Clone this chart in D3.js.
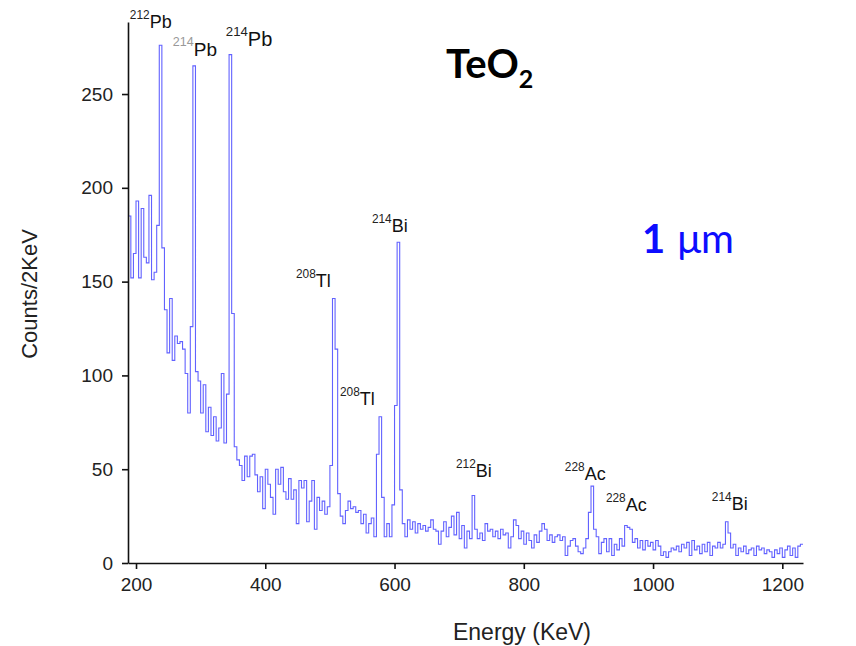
<!DOCTYPE html>
<html>
<head>
<meta charset="utf-8">
<script src="https://cdn.jsdelivr.net/npm/d3@7"></script>
<style>
  html, body { margin: 0; padding: 0; background: #fff; }
  svg { display: block; }
  .tick text { font-family: "Liberation Sans", Arial, sans-serif; font-size: 19px; fill: #222; }
  .tick line, .domain { stroke: #111; stroke-width: 1.6; }
</style>
</head>
<body>
<svg id="chart" width="856" height="646"></svg>
<script>
// Gamma spectrum of a TeO2 sample: counts per bin, bins start at 188 keV.
const binStartKeV = 188;
const binWidthKeV = 4;
const counts = [
  185, 152, 165, 193, 152, 189, 163, 160, 196, 151,
  155, 180, 276, 168, 135, 112, 141, 108, 121, 117,
  118, 114, 101, 80, 126, 265, 102, 97, 80, 95,
  70, 83, 68, 78, 65, 72, 101, 64, 90, 271,
  133, 62, 55, 52, 44, 57, 46, 57, 58, 47,
  38, 46, 29, 50, 42, 35, 26, 50, 42, 51,
  38, 34, 45, 34, 39, 21, 44, 40, 44, 22,
  33, 44, 18, 35, 28, 33, 26, 30, 52, 141,
  114, 37, 25, 21, 28, 33, 29, 30, 27, 28,
  21, 26, 16, 21, 24, 14, 58, 78, 35, 14,
  21, 14, 31, 84, 171, 39, 21, 14, 23, 18,
  22, 16, 21, 18, 20, 17, 19, 23, 18, 17,
  10, 17, 22, 14, 19, 25, 15, 27, 13, 20,
  8, 17, 13, 36, 18, 13, 16, 12, 21, 17,
  18, 14, 17, 13, 18, 15, 16, 8, 14, 23,
  20, 13, 17, 10, 16, 12, 8, 15, 11, 17,
  21, 18, 12, 15, 11, 14, 15, 12, 14, 4,
  9, 12, 13, 9, 6, 5, 8, 13, 27, 41,
  18, 14, 5, 11, 13, 6, 13, 4, 10, 7,
  13, 9, 20, 19, 18, 11, 13, 8, 12, 7,
  12, 9, 11, 7, 12, 9, 4, 6, 3, 6,
  8, 7, 9, 6, 10, 8, 11, 4, 12, 7,
  9, 5, 10, 6, 11, 4, 9, 8, 11, 8,
  10, 22, 16, 8, 10, 4, 8, 6, 9, 5,
  7, 8, 4, 9, 7, 8, 5, 7, 6, 3,
  7, 5, 8, 3, 7, 9, 4, 8, 3, 9,
  10
];

// Axis ticks
const xTicks = [200, 400, 600, 800, 1000, 1200];
const yTicks = [0, 50, 100, 150, 200, 250];
const xDomain = [187.6, 1232];
const yDomain = [0, 288.4];

// Peak annotations: mass number, element, label anchor (keV, counts)
const peakMass    = ["212", "214", "214", "208", "208", "214", "212", "228", "228", "214"];
const peakElement = ["Pb",  "Pb",  "Pb",  "Tl",  "Tl",  "Bi",  "Bi",  "Ac",  "Ac",  "Bi"];
const peakLabelE  = [190.5, 257,   339,   447.5, 515.5, 565,   695,   863.5, 927,   1091];
const peakLabelC  = [285,   270.5, 275.5, 147,   84,    176.3, 45.8,  44.2,  27.7,  28.2];
const peakLabelSz = [18,    19,    20,    18,    18,    18,    18,    18,    18,    18];
const peakMassCol = ["#222", "#999", "#222", "#222", "#222", "#222", "#222", "#222", "#222", "#222"];

const svg = d3.select("#chart");
const x = d3.scaleLinear().domain(xDomain).range([128, 803]);
const y = d3.scaleLinear().domain(yDomain).range([563, 22]);

// Spectrum as a step histogram
const points = counts.map((c, i) => [binStartKeV + i * binWidthKeV, c]);
points.push([binStartKeV + counts.length * binWidthKeV, counts[counts.length - 1]]);
const line = d3.line()
  .x(d => x(d[0]))
  .y(d => y(d[1]))
  .curve(d3.curveStepAfter);

svg.append("path")
  .datum(points)
  .attr("d", line)
  .attr("fill", "none")
  .attr("stroke", "#6262ff")
  .attr("stroke-width", 1.1)
  .attr("stroke-linejoin", "miter");

// Axes
const xAxis = d3.axisBottom(x).tickValues(xTicks).tickFormat(d3.format("d"))
  .tickSize(6).tickSizeOuter(0).tickPadding(9);
const yAxis = d3.axisLeft(y).tickValues(yTicks).tickFormat(d3.format("d"))
  .tickSize(6).tickSizeOuter(0).tickPadding(9);

svg.append("g").attr("transform", "translate(0,563)").call(xAxis);
svg.append("g").attr("transform", "translate(128,0)").call(yAxis);

// Axis titles
svg.append("text")
  .attr("x", 522).attr("y", 640)
  .attr("text-anchor", "middle")
  .attr("font-family", "Liberation Sans, Arial, sans-serif")
  .attr("font-size", 23).attr("fill", "#222")
  .text("Energy (KeV)");

svg.append("text")
  .attr("transform", "translate(37,294) rotate(-90)")
  .attr("text-anchor", "middle")
  .attr("font-family", "Liberation Sans, Arial, sans-serif")
  .attr("font-size", 22).attr("fill", "#222")
  .text("Counts/2KeV");

// Peak labels with superscript mass numbers
peakMass.forEach((m, i) => {
  const sz = peakLabelSz[i];
  const t = svg.append("text")
    .attr("x", x(peakLabelE[i]))
    .attr("y", y(peakLabelC[i]))
    .attr("font-family", "Liberation Sans, Arial, sans-serif")
    .attr("fill", "#111");
  t.append("tspan")
    .attr("font-size", sz * 0.66)
    .attr("dy", -sz * 0.5)
    .attr("fill", peakMassCol[i])
    .text(m);
  t.append("tspan")
    .attr("font-size", sz)
    .attr("dy", sz * 0.5)
    .text(peakElement[i]);
});

// Sample name
const title = svg.append("text")
  .attr("x", 446).attr("y", 78)
  .attr("font-family", "Lato, 'Open Sans', sans-serif")
  .attr("font-weight", "bold")
  .attr("fill", "#000");
title.append("tspan").attr("font-size", 40).text("TeO");
title.append("tspan").attr("font-size", 25).attr("dy", 10).text("2");

// Thickness
const thick = svg.append("text")
  .attr("x", 642).attr("y", 253)
  .attr("font-family", "Lato, 'Open Sans', sans-serif")
  .attr("fill", "#0d0dff");
thick.append("tspan").attr("font-size", 40).attr("font-weight", "bold").text("1");
thick.append("tspan").attr("font-size", 40).attr("dx", 12).text("\u03bcm");
</script>
</body>
</html>
